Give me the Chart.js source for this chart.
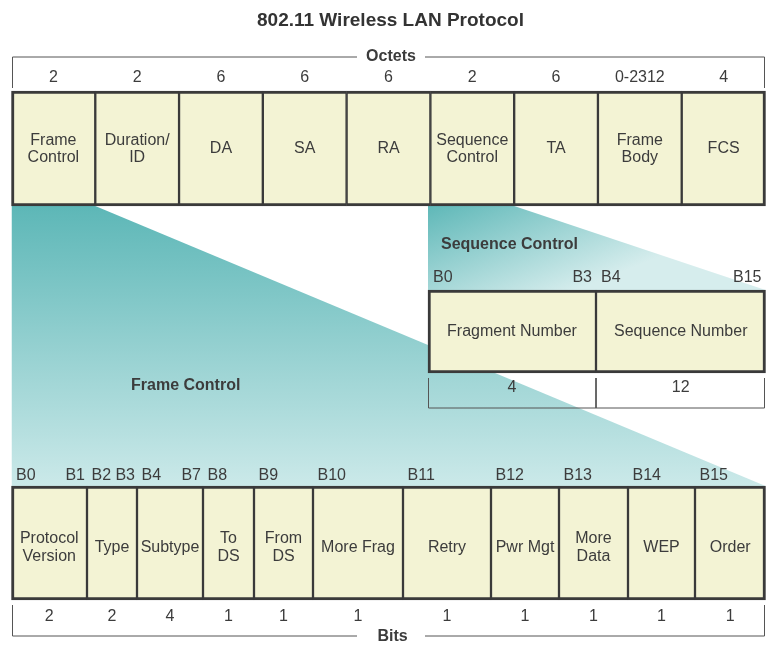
<!DOCTYPE html>
<html>
<head>
<meta charset="utf-8">
<title>802.11 Wireless LAN Protocol</title>
<script src="https://cdn.jsdelivr.net/npm/chart.js@4.4.1/dist/chart.umd.min.js"></script>
<style>
  html, body { margin: 0; padding: 0; background: #fff; }
  #wrap { width: 781px; height: 661px; }
</style>
</head>
<body>
<div id="wrap"><canvas id="frame"></canvas></div>
<script>
// MAC frame fields and their size in octets
const octetFields = ['Frame\nControl', 'Duration/\nID', 'DA', 'SA', 'RA', 'Sequence\nControl', 'TA', 'Frame\nBody', 'FCS'];
const octetSizes = ['2', '2', '6', '6', '6', '2', '6', '0-2312', '4'];

// sequence control sub-fields, size in bits
const seqFields = ['Fragment Number', 'Sequence Number'];
const seqBits = [4, 12];

// frame control sub-fields, size in bits
const fcFields = ['Protocol\nVersion', 'Type', 'Subtype', 'To\nDS', 'From\nDS', 'More Frag', 'Retry', 'Pwr Mgt', 'More\nData', 'WEP', 'Order'];
const fcBits = [2, 2, 4, 1, 1, 1, 1, 1, 1, 1, 1];

// layout, in the same pixel units as the axes
const rowLeft = 11.5, rowRight = 765.5;
const rowOctet = { top: 91, bottom: 206 };
const rowSeq = { top: 290, bottom: 373 };
const rowFc = { top: 486, bottom: 600 };
const seqEdges = [428, 596, rowRight];
const fcEdges = [rowLeft, 87, 137, 203, 254, 313, 403, 491, 559, 628, 695, rowRight];
const octetEdges = octetFields.map((f, i) => rowLeft + i * (rowRight - rowLeft) / octetFields.length).concat(rowRight);

const font = '"Liberation Sans", Arial, sans-serif';
const textColor = '#3c3c3c';
const boxFill = '#f3f3d4';
const boxLine = '#3a3a3a';
const bracketLine = '#555555';

const mid = r => (r.top + r.bottom) / 2;
const hgt = r => r.bottom - r.top;

function boxes(edges, row) {
  return edges.slice(0, -1).map((e, i) => ({ x: [e, edges[i + 1]], y: mid(row) }));
}

function sides(n) {
  return ctx => ({
    top: 3, bottom: 3,
    left: ctx.dataIndex === 0 ? 3 : 1.5,
    right: ctx.dataIndex === n - 1 ? 3 : 1.5
  });
}

function barSet(edges, row, n) {
  return {
    type: 'bar',
    indexAxis: 'y',
    data: boxes(edges, row),
    grouped: false,
    barThickness: hgt(row),
    maxBarThickness: hgt(row),
    backgroundColor: boxFill,
    borderColor: boxLine,
    borderWidth: sides(n),
    borderSkipped: false,
    order: 1
  };
}

function bitRanges(bits) {
  let b = 0;
  return bits.map(n => {
    const r = n > 1 ? ['B' + b, 'B' + (b + n - 1)] : ['B' + b];
    b += n;
    return r;
  });
}

function gradient(x0, y0, x1, y1, c0, c1) {
  return ctx => {
    const chart = ctx.chart;
    if (!chart.chartArea) return c1;
    const sx = chart.scales.x, sy = chart.scales.y;
    const g = chart.ctx.createLinearGradient(sx.getPixelForValue(x0), sy.getPixelForValue(y0), sx.getPixelForValue(x1), sy.getPixelForValue(y1));
    g.addColorStop(0, c0);
    g.addColorStop(1, c1);
    return g;
  };
}

function bracket(points) {
  return {
    type: 'line',
    data: points,
    borderColor: bracketLine,
    borderWidth: 1,
    pointRadius: 0,
    fill: false,
    spanGaps: false,
    tension: 0,
    order: 2
  };
}

const gap = 34, labelX = 391;
const octetBracket = [
  { x: 12.5, y: 88 }, { x: 12.5, y: 57 }, { x: labelX - gap, y: 57 }, { x: labelX, y: null },
  { x: labelX + gap, y: 57 }, { x: 764.5, y: 57 }, { x: 764.5, y: 88 }
];
const seqBracket = [
  { x: seqEdges[0] + 0.5, y: 378 }, { x: seqEdges[0] + 0.5, y: 408 }, { x: 764.5, y: 408 }, { x: 764.5, y: 378 },
  { x: 764.5, y: null }, { x: seqEdges[1], y: 378 }, { x: seqEdges[1], y: 408 }
];
const bitsBracket = [
  { x: 12.5, y: 605 }, { x: 12.5, y: 636 }, { x: labelX - gap, y: 636 }, { x: labelX, y: null },
  { x: labelX + gap, y: 636 }, { x: 764.5, y: 636 }, { x: 764.5, y: 605 }
];

const labelPlugin = {
  id: 'fieldLabels',
  afterDatasetsDraw(chart) {
    const { ctx, scales: { x, y } } = chart;
    ctx.save();
    ctx.fillStyle = textColor;
    ctx.textBaseline = 'middle';
    ctx.textAlign = 'center';
    ctx.font = '16px ' + font;

    // names inside the boxes
    [[0, octetFields, 0.5], [1, seqFields, 0.5], [2, fcFields, 4.5]].forEach(([di, names, dy]) => {
      chart.getDatasetMeta(di).data.forEach((bar, i) => {
        const cx = (bar.x + bar.base) / 2;
        const lines = names[i].split('\n');
        lines.forEach((t, k) => ctx.fillText(t, cx, bar.y + dy + (k - (lines.length - 1) / 2) * 17.5));
      });
    });

    // sizes
    const sizeRow = (di, labels, yv) => {
      chart.getDatasetMeta(di).data.forEach((bar, i) => {
        ctx.fillText(String(labels[i]), (bar.x + bar.base) / 2, y.getPixelForValue(yv));
      });
    };
    sizeRow(0, octetSizes, 78);
    sizeRow(1, seqBits, 388);
    sizeRow(2, fcBits, 617);

    // bit numbers over the boxes
    const bitRow = (di, ranges, yv, padL, padR) => {
      chart.getDatasetMeta(di).data.forEach((bar, i) => {
        const l = Math.min(bar.x, bar.base), r = Math.max(bar.x, bar.base);
        ctx.textAlign = 'left';
        ctx.fillText(ranges[i][0], l + padL, y.getPixelForValue(yv));
        if (ranges[i][1]) {
          ctx.textAlign = 'right';
          ctx.fillText(ranges[i][1], r - padR, y.getPixelForValue(yv));
        }
      });
    };
    bitRow(1, bitRanges(seqBits), 278, 5, 4);
    bitRow(2, bitRanges(fcBits), 476, 4.5, 2);

    // section captions
    ctx.font = 'bold 16px ' + font;
    ctx.textAlign = 'center';
    ctx.fillText('Octets', x.getPixelForValue(labelX), y.getPixelForValue(57));
    ctx.fillText('Bits', x.getPixelForValue(labelX + 1.5), y.getPixelForValue(637));
    ctx.textAlign = 'left';
    ctx.fillText('Sequence Control', x.getPixelForValue(441), y.getPixelForValue(245));
    ctx.fillText('Frame Control', x.getPixelForValue(131), y.getPixelForValue(386));
    ctx.restore();
  }
};

const titleTop = 9, titleBottom = 7.2, titleSize = 19;
const axisTop = titleTop + titleBottom + titleSize * 1.2;

new Chart(document.getElementById('frame'), {
  type: 'bar',
  data: {
    datasets: [
      barSet(octetEdges, rowOctet, octetFields.length),
      barSet(seqEdges, rowSeq, seqFields.length),
      barSet(fcEdges, rowFc, fcFields.length),
      bracket(octetBracket),
      bracket(seqBracket),
      bracket(bitsBracket),
      {
        type: 'line',
        data: [{ x: rowLeft, y: rowOctet.bottom }, { x: octetEdges[1], y: rowOctet.bottom }, { x: rowRight, y: rowFc.top }],
        fill: { value: rowFc.top },
        backgroundColor: gradient(0, rowOctet.bottom, 0, rowFc.top, '#5db7b7', '#cbe9e9'),
        borderColor: 'rgba(0,0,0,0)',
        pointRadius: 0,
        tension: 0,
        order: 5
      },
      {
        type: 'line',
        data: [{ x: seqEdges[0], y: rowOctet.bottom }, { x: octetEdges[6], y: rowOctet.bottom }, { x: rowRight, y: rowSeq.top }],
        fill: { value: rowSeq.top },
        backgroundColor: gradient(seqEdges[0], rowOctet.bottom, 478, 330, '#5fb8b8', '#d6eded'),
        borderColor: 'rgba(0,0,0,0)',
        pointRadius: 0,
        tension: 0,
        order: 5
      }
    ]
  },
  options: {
    responsive: true,
    maintainAspectRatio: false,
    animation: false,
    events: [],
    layout: { padding: 0 },
    scales: {
      x: { type: 'linear', min: 0, max: 781, display: false, offset: false },
      y: { type: 'linear', min: axisTop, max: 661, reverse: true, display: false, offset: false, ticks: { stepSize: 1000 } }
    },
    plugins: {
      legend: { display: false },
      tooltip: { enabled: false },
      title: {
        display: true,
        text: '802.11 Wireless LAN Protocol',
        color: '#333333',
        font: { family: font, size: titleSize, weight: 'bold' },
        padding: { top: titleTop, bottom: titleBottom }
      }
    }
  },
  plugins: [labelPlugin]
});
</script>
</body>
</html>
